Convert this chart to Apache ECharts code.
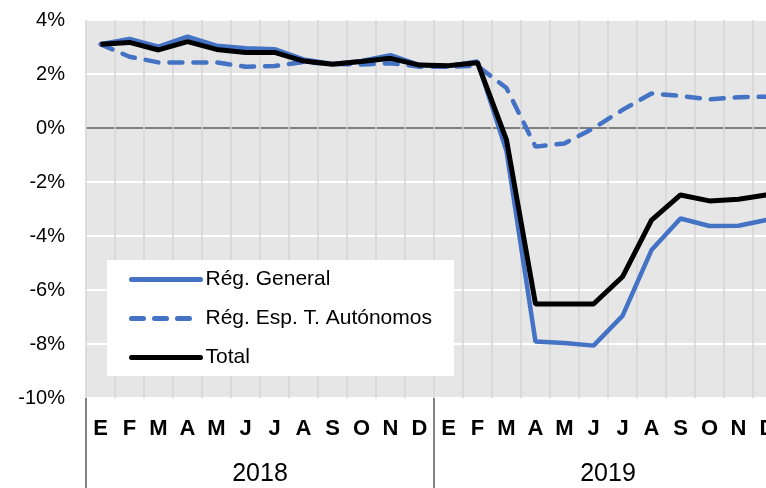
<!DOCTYPE html>
<html>
<head>
<meta charset="utf-8">
<script src="https://cdn.jsdelivr.net/npm/echarts@6/dist/echarts.min.js"></script>
<style>
  html, body { margin: 0; padding: 0; background: #fff; overflow: hidden; }
  #chart { width: 800px; height: 488px; }
</style>
</head>
<body>
<div id="chart"></div>
<script type="text/javascript">
    // meses y años del eje horizontal
    var months = ['E','F','M','A','M','J','J','A','S','O','N','D'];
    var years = ['2018', '2019'];

    // variación interanual (%)
    var general = [3.10, 3.30, 3.01, 3.38, 3.05, 2.95, 2.92, 2.54, 2.37, 2.48, 2.70, 2.33,
                   2.30, 2.46, -0.85, -7.91, -7.96, -8.06, -6.96, -4.52, -3.35, -3.63, -3.62, -3.40];
    var autonomos = [3.10, 2.64, 2.43, 2.43, 2.43, 2.27, 2.30, 2.44, 2.37, 2.35, 2.40, 2.27,
                     2.27, 2.30, 1.48, -0.69, -0.57, -0.01, 0.67, 1.28, 1.19, 1.06, 1.14, 1.16];
    var total = [3.10, 3.17, 2.89, 3.20, 2.91, 2.80, 2.80, 2.48, 2.36, 2.46, 2.58, 2.33,
                 2.31, 2.42, -0.44, -6.52, -6.52, -6.52, -5.51, -3.41, -2.48, -2.70, -2.64, -2.47];

    var seriesNames = ['Rég. General', 'Rég. Esp. T. Autónomos', 'Total'];

    // categorías únicas (año-mes), se muestra sólo la letra
    var cats = [];
    years.forEach(function (y) {
        months.forEach(function (m, i) { cats.push(y + '-' + i + '-' + m); });
    });

    var font = "'Liberation Sans', Arial, sans-serif";
    var blue = '#4472C4';

    var myChart = echarts.init(document.getElementById('chart'));

    var option = {
        animation: false,
        textStyle: { fontFamily: font },
        grid: {
            left: 86, top: 20, width: 696, height: 378,
            show: true, backgroundColor: '#e6e6e6', borderWidth: 0
        },
        legend: {
            data: [
                { name: seriesNames[0], itemStyle: { opacity: 0 }, lineStyle: { width: 5, cap: 'round' } },
                { name: seriesNames[1], itemStyle: { opacity: 0 }, lineStyle: { width: 5, cap: 'round', type: [12, 11] } },
                { name: seriesNames[2], itemStyle: { opacity: 0 }, lineStyle: { width: 5, cap: 'round' } }
            ],
            orient: 'vertical',
            left: 107, top: 260,
            backgroundColor: '#fff',
            padding: [9, 22, 8, 22],
            itemWidth: 69, itemHeight: 20, itemGap: 18,
            textStyle: { fontSize: 21, color: '#000', fontFamily: font }
        },
        xAxis: [
            {
                type: 'category',
                data: cats,
                boundaryGap: true,
                axisLine: { show: false },
                axisTick: { show: false },
                splitLine: { show: true, lineStyle: { color: '#d4d4d4', width: 1.5 } },
                axisLabel: {
                    interval: 0, margin: 20,
                    fontSize: 22, fontWeight: 'bold', color: '#000',
                    formatter: function (v) { return v.split('-')[2]; }
                }
            },
            {
                type: 'category',
                data: years,
                position: 'bottom',
                boundaryGap: true,
                axisLine: { show: false },
                axisTick: { show: true, length: 90, lineStyle: { color: '#595959', width: 1.5 } },
                splitLine: { show: false },
                axisLabel: { margin: 64, fontSize: 25, color: '#000' }
            }
        ],
        yAxis: {
            type: 'value',
            min: -10, max: 4, interval: 2,
            axisLine: { show: false },
            axisTick: { show: false },
            // la línea del 0% en gris oscuro
            splitLine: {
                lineStyle: {
                    color: ['#fff', '#fff', '#fff', '#fff', '#fff', '#7f7f7f', '#fff', '#fff'],
                    width: 2
                }
            },
            axisLabel: { formatter: '{value}%', fontSize: 20, color: '#000', margin: 21 }
        },
        series: [
            {
                name: seriesNames[0], type: 'line', data: general,
                symbol: 'none', color: blue,
                lineStyle: { color: blue, width: 4.5 },
                z: 2
            },
            {
                name: seriesNames[1], type: 'line', data: autonomos,
                symbol: 'none', color: blue,
                lineStyle: { color: blue, width: 4.5, type: [13, 11], cap: 'round' },
                z: 3
            },
            {
                name: seriesNames[2], type: 'line', data: total,
                symbol: 'none', color: '#000',
                lineStyle: { color: '#000', width: 5 },
                z: 4
            }
        ]
    };

    myChart.setOption(option);
</script>
</body>
</html>
